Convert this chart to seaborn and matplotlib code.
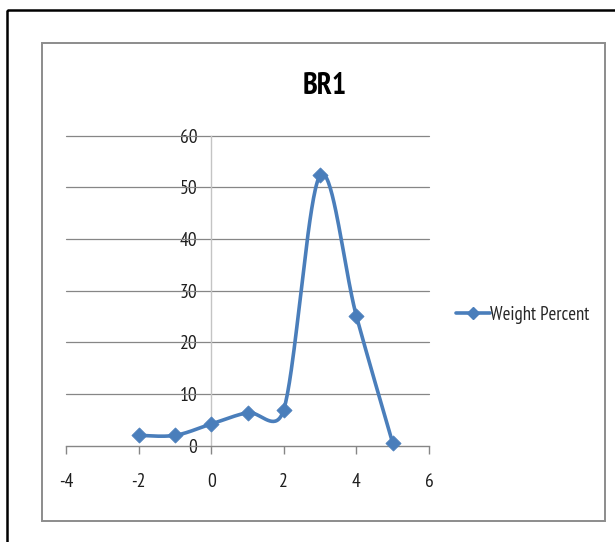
import numpy as np
import pandas as pd
import matplotlib
matplotlib.use("Agg")
import matplotlib.pyplot as plt
from matplotlib.patches import Rectangle
from matplotlib.lines import Line2D
import seaborn as sns

# Weight percent per class
x_vals = [-2, -1, 0, 1, 2, 3, 4, 5]
weight_percent = [2.0, 2.0, 4.2, 6.4, 7.0, 52.3, 25.1, 0.5]
x_ticks = [-4, -2, 0, 2, 4, 6]
y_ticks = [0, 10, 20, 30, 40, 50, 60]
series_name = "Weight Percent"
chart_title = "BR1"

BLUE = "#4A7EBB"
GRID = "#868686"
FONT = ["PT Sans Narrow", "DejaVu Sans"]

sns.set_theme(style="white")
plt.rcParams["font.family"] = FONT


def smooth_curve(ax, xs, ys, steps=40, tension=1 / 6, clamp=0.75):
    """Bezier-smoothed line through the points, built in display space."""
    pts = ax.transData.transform(np.column_stack([xs, ys]).astype(float))
    ext = np.vstack([pts[0], pts, pts[-1]])
    t = np.linspace(0, 1, steps)[:, None]
    out = []
    for i in range(1, len(ext) - 2):
        p0, p1, p2, p3 = ext[i - 1], ext[i], ext[i + 1], ext[i + 2]
        d12 = np.hypot(*(p2 - p1))
        v1 = (p2 - p0) * tension
        v2 = (p3 - p1) * tension
        lim = clamp * d12
        n1, n2 = np.hypot(*v1), np.hypot(*v2)
        if n1 > lim:
            v1 *= lim / n1
        if n2 > lim:
            v2 *= lim / n2
        c1, c2 = p1 + v1, p2 - v2
        seg = ((1 - t) ** 3) * p1 + 3 * ((1 - t) ** 2) * t * c1 \
            + 3 * (1 - t) * t ** 2 * c2 + t ** 3 * p2
        out.append(seg if i == 1 else seg[1:])
    return ax.transData.inverted().transform(np.vstack(out))


W, H = 615, 542
fig = plt.figure(figsize=(W / 100, H / 100), dpi=100)


def px(x0, y0):
    return x0 / W, 1 - y0 / H


# outer frame and chart-area frame
fig.patches.append(Rectangle(px(7, 10), 1.2, -1.2, transform=fig.transFigure,
                             fill=False, edgecolor="black", linewidth=1.8))
x0f, y0f = px(42, 521)
fig.patches.append(Rectangle((x0f, y0f), (605 - 42) / W, (521 - 43) / H,
                             transform=fig.transFigure, fill=False,
                             edgecolor="#8C8C8C", linewidth=1.4))

left, top = px(66, 135.7)
right, bottom = px(429, 445.7)
ax = fig.add_axes([left, bottom, right - left, top - bottom])
ax.set_xlim(-4, 6)
ax.set_ylim(0, 60)

curve = smooth_curve(ax, x_vals, weight_percent)
curve_df = pd.DataFrame({"x": curve[:, 0], "y": curve[:, 1]})
pts_df = pd.DataFrame({"x": x_vals, "y": weight_percent})

sns.lineplot(data=curve_df, x="x", y="y", sort=False, ax=ax, color=BLUE,
             linewidth=2.6, zorder=3, clip_on=False)
sns.scatterplot(data=pts_df, x="x", y="y", ax=ax, marker="D", s=60,
                color=BLUE, edgecolor=BLUE, linewidth=0.5, zorder=4,
                clip_on=False)

ax.set_xlim(-4, 6)
ax.set_ylim(0, 60)
ax.set_xticks(x_ticks)
ax.set_yticks(y_ticks)
ax.set_xticklabels([str(v) for v in x_ticks])
ax.set_yticklabels([str(v) for v in y_ticks])
ax.set_xlabel("")
ax.set_ylabel("")

for yv in y_ticks[1:]:
    ax.axhline(yv, color=GRID, linewidth=0.9, zorder=1, clip_on=False)

for side in ["top", "right"]:
    ax.spines[side].set_visible(False)
ax.spines["left"].set_position(("data", 0))
ax.spines["left"].set_color("#C4C4C4")
ax.spines["left"].set_linewidth(1.0)
ax.spines["bottom"].set_color(GRID)
ax.spines["bottom"].set_linewidth(1.0)

ax.tick_params(axis="x", direction="out", length=5.5, width=1.0, color=GRID,
               pad=14, labelsize=14, labelcolor="#1E1E1E", bottom=True)
ax.tick_params(axis="y", length=0, pad=10, labelsize=14,
               labelcolor="#1E1E1E", left=True)
ax.patch.set_alpha(0)

fig.text(*px(325, 86), chart_title, ha="center", va="center",
         fontsize=21.5, fontweight="bold", color="black")

handle = Line2D([], [], color=BLUE, linewidth=2.6, marker="D", markersize=6.5)
fig.legend([handle], [series_name], loc="center left",
           bbox_to_anchor=px(456, 315), bbox_transform=fig.transFigure,
           frameon=False, fontsize=13.5, handlelength=1.8,
           handletextpad=0.0, borderpad=0, borderaxespad=0, numpoints=1)

fig.savefig("out.png", dpi=100)
